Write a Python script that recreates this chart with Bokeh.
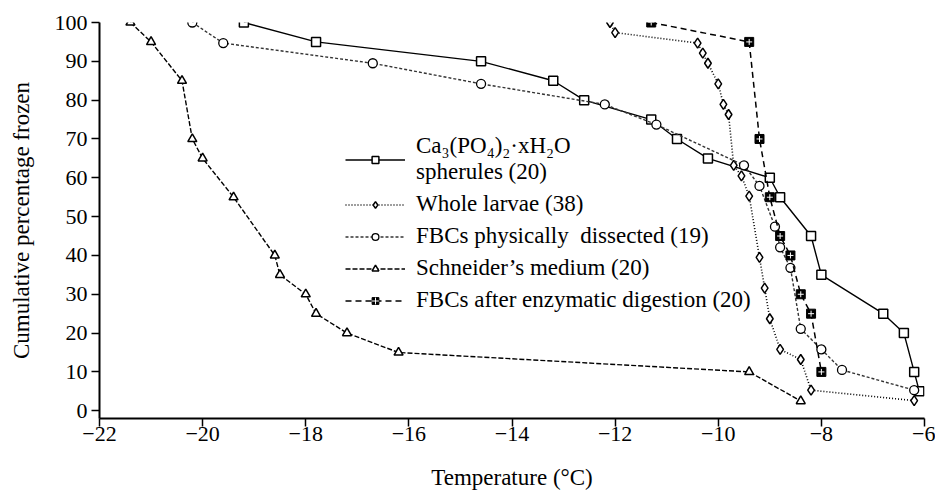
from bokeh.plotting import figure
from bokeh.models import Range1d, FixedTicker, Legend, LegendItem
from bokeh.embed import file_html
from bokeh.resources import INLINE

# ---- data ----
ca_temp = [-19.2, -17.8, -14.6, -13.2, -12.6, -11.3, -10.8, -10.2, -9.0, -8.8, -8.2, -8.0, -6.8, -6.4, -6.2, -6.1]
ca_pct = [100, 95, 90, 85, 80, 75, 70, 65, 60, 55, 45, 35, 25, 20, 10, 5]

larvae_temp = [-12.1, -12.0, -10.4, -10.3, -10.2, -10.0, -9.9, -9.8, -9.7, -9.55, -9.4, -9.2, -9.1, -9.0, -8.8, -8.4, -8.2, -6.2]
larvae_pct = [100, 97.4, 94.7, 92.1, 89.5, 84.2, 78.9, 76.3, 63.2, 60.5, 55.3, 39.5, 31.6, 23.7, 15.8, 13.2, 5.3, 2.6]

dissected_temp = [-20.2, -19.6, -16.7, -14.6, -12.2, -11.2, -9.5, -9.2, -8.9, -8.8, -8.6, -8.4, -8.0, -7.6, -6.2]
dissected_pct = [100, 94.7, 89.5, 84.2, 78.9, 73.7, 63.2, 57.9, 47.4, 42.1, 36.8, 21.1, 15.8, 10.5, 5.3]

schneider_temp = [-21.4, -21.0, -20.4, -20.2, -20.0, -19.4, -18.6, -18.5, -18.0, -17.8, -17.2, -16.2, -9.4, -8.4]
schneider_pct = [100, 95, 85, 70, 65, 55, 40, 35, 30, 25, 20, 15, 10, 2.5]

enzymatic_temp = [-11.3, -9.4, -9.2, -9.0, -8.8, -8.6, -8.4, -8.2, -8.0]
enzymatic_pct = [100, 95, 70, 55, 45, 40, 30, 25, 10]

x_ticks = [-22, -20, -18, -16, -14, -12, -10, -8, -6]
y_ticks = [0, 10, 20, 30, 40, 50, 60, 70, 80, 90, 100]

FONT = "Liberation Serif"

p = figure(width=935, height=492, output_backend="svg", toolbar_location=None,
           x_range=Range1d(-22, -6), y_range=Range1d(-2, 100),
           min_border_left=99, min_border_right=11, min_border_top=22, min_border_bottom=74)
p.outline_line_color = None
p.grid.visible = False
p.background_fill_color = "white"

# axes
for ax in (p.xaxis[0], p.yaxis[0]):
    ax.axis_line_width = 2
    ax.axis_line_color = "black"
    ax.major_tick_line_width = 1.5
    ax.major_tick_out = 8
    ax.major_tick_in = 0
    ax.minor_tick_line_color = None
    ax.major_label_text_font = FONT
    ax.major_label_text_font_size = "22px"
    ax.major_label_text_color = "black"
    ax.axis_label_text_font = FONT
    ax.axis_label_text_font_size = "23px"
    ax.axis_label_text_font_style = "normal"
    ax.axis_label_text_color = "black"

p.xaxis[0].ticker = FixedTicker(ticks=x_ticks)
p.xaxis[0].major_label_overrides = {t: ("\u2212" + str(abs(t)) if t < 0 else str(t)) for t in x_ticks}
p.xaxis[0].major_label_standoff = 0
p.xaxis[0].axis_label = "Temperature (\u00b0C)"
p.xaxis[0].axis_label_standoff = 21

p.yaxis[0].ticker = FixedTicker(ticks=y_ticks)
p.yaxis[0].major_label_standoff = 4
p.yaxis[0].axis_label = "Cumulative percentage frozen"
p.yaxis[0].axis_label_standoff = 18

# series
l_ca = p.line(ca_temp, ca_pct, line_color="black", line_width=1.4)
s_ca = p.scatter(ca_temp, ca_pct, marker="square", size=9, line_color="black", line_width=1.5, fill_color="white")

l_lv = p.line(larvae_temp, larvae_pct, line_color="black", line_width=1.6, line_dash="1 2")
s_lv = p.scatter(larvae_temp, larvae_pct, marker="diamond", size=10, line_color="black", line_width=1.5, fill_color="white")

l_ds = p.line(dissected_temp, dissected_pct, line_color="#333333", line_width=1.4, line_dash="3 2")
s_ds = p.scatter(dissected_temp, dissected_pct, marker="circle", size=9, line_color="black", line_width=1.3, fill_color="white")

l_sc = p.line(schneider_temp, schneider_pct, line_color="black", line_width=1.4, line_dash="5 2")
s_sc = p.scatter(schneider_temp, schneider_pct, marker="triangle", size=9, line_color="black", line_width=1.5, fill_color="white")

l_ez = p.line(enzymatic_temp, enzymatic_pct, line_color="black", line_width=1.5, line_dash="6 4")
s_ez = p.scatter(enzymatic_temp, enzymatic_pct, marker="square", size=9, line_color="black", line_width=1, fill_color="black")
c_ez = p.scatter(enzymatic_temp, enzymatic_pct, marker="cross", size=6, line_color="white", line_width=1)

legend = Legend(items=[
    LegendItem(label="Ca\u2083(PO\u2084)\u2082\u00b7xH\u2082O\nspherules (20)", renderers=[l_ca, s_ca]),
    LegendItem(label="Whole larvae (38)", renderers=[l_lv, s_lv]),
    LegendItem(label="FBCs physically  dissected (19)", renderers=[l_ds, s_ds]),
    LegendItem(label="Schneider\u2019s medium (20)", renderers=[l_sc, s_sc]),
    LegendItem(label="FBCs after enzymatic digestion (20)", renderers=[l_ez, s_ez, c_ez]),
], location=(246, 105))
legend.label_text_font = FONT
legend.label_text_font_size = "23px"
legend.label_text_color = "black"
legend.label_text_line_height = 1.05
legend.glyph_width = 60
legend.glyph_height = 17
legend.label_height = 26
legend.label_standoff = 11
legend.spacing = 6
legend.padding = 0
legend.margin = 0
legend.border_line_alpha = 0
legend.background_fill_alpha = 0
p.add_layout(legend, "center")

html = file_html(p, INLINE)
open("out.html", "w").write(html)
